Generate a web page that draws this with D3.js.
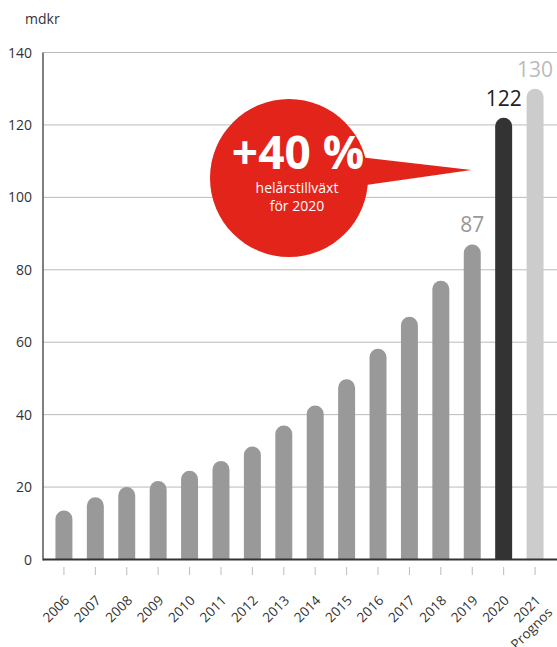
<!DOCTYPE html>
<html><head><meta charset="utf-8">
<script src="https://cdn.jsdelivr.net/npm/d3@7"></script>
<style>
html,body{margin:0;padding:0;background:#fff;}
svg{display:block;font-family:"Open Sans",sans-serif;}
</style></head>
<body>
<svg id="c" width="557" height="647"></svg>
<script>
const years = ["2006","2007","2008","2009","2010","2011","2012","2013","2014","2015","2016","2017","2018","2019","2020","2021"];
const values = [13.5,17.2,20,21.7,24.5,27.2,31.2,37,42.5,49.8,58.2,67,77,87,122,130];
const barColors = ["#999999","#999999","#999999","#999999","#999999","#999999","#999999","#999999","#999999","#999999","#999999","#999999","#999999","#999999","#333333","#cccccc"];
const valueLabels = [null,null,null,null,null,null,null,null,null,null,null,null,null,"87","122","130"];
const labelColors = [null,null,null,null,null,null,null,null,null,null,null,null,null,"#999999","#222222","#bbbbbb"];
const subLabels = ["","","","","","","","","","","","","","","","Prognos"];
const yTicks = [0,20,40,60,80,100,120,140];
const unit = "mdkr";
const bubbleBig = "+40 %";
const bubbleLines = ["helårstillväxt","för 2020"];

const svg = d3.select("#c");
const x = d3.scaleBand().domain(years).range([41,558]).paddingInner(0.46).paddingOuter(0.46);
const y = d3.scaleLinear().domain([0,140]).range([559.5,52.5]);
const axisX = 43;

// gridlines
svg.append("g").selectAll("line").data(yTicks.filter(d=>d>0)).join("line")
  .attr("x1",axisX).attr("x2",557).attr("y1",d=>y(d)).attr("y2",d=>y(d))
  .attr("stroke","#bbbbbb").attr("stroke-width",1);

// y tick labels
svg.append("g").selectAll("text").data(yTicks).join("text")
  .attr("x",32).attr("y",d=>y(d)).attr("dy","0.36em").attr("text-anchor","end")
  .attr("font-size",14).attr("fill","#333").text(d=>d);

svg.append("text").attr("x",25).attr("y",24).attr("font-size",14).attr("fill","#333").text(unit);

// bars
const bw = x.bandwidth(), r = bw/2;
svg.append("g").selectAll("path").data(years).join("path")
  .attr("d",(d,i)=>{
    const x0 = x(d), yt = y(values[i]), yb = y(0);
    return `M${x0},${yb}L${x0},${yt+r}A${r},${r} 0 0 1 ${x0+bw},${yt+r}L${x0+bw},${yb}Z`;
  })
  .attr("fill",(d,i)=>barColors[i]);

// axes lines
svg.append("line").attr("x1",axisX).attr("x2",axisX).attr("y1",y(140)).attr("y2",y(0)+1)
  .attr("stroke","#555").attr("stroke-width",1.5);
svg.append("line").attr("x1",axisX).attr("x2",557).attr("y1",y(0)).attr("y2",y(0))
  .attr("stroke","#333").attr("stroke-width",2);

// x ticks
svg.append("g").selectAll("line").data(years).join("line")
  .attr("x1",d=>x(d)+bw/2).attr("x2",d=>x(d)+bw/2).attr("y1",567).attr("y2",575)
  .attr("stroke","#bbb").attr("stroke-width",1);

// x labels
const xl = svg.append("g").selectAll("text").data(years).join("text")
  .attr("transform",d=>`translate(${x(d)+bw/2+3},${598}) rotate(-45)`)
  .attr("text-anchor","end").attr("font-size",13.5).attr("fill","#333");
xl.append("tspan").attr("x",0).attr("dy","0.35em").text(d=>d);
xl.append("tspan").attr("x",0).attr("dy","1.25em").text((d,i)=>subLabels[i]);

// value labels
svg.append("g").selectAll("text").data(years.map((d,i)=>({d,i})).filter(o=>valueLabels[o.i])).join("text")
  .attr("x",o=>x(o.d)+bw/2).attr("y",o=>y(values[o.i])-12)
  .attr("text-anchor","middle").attr("font-size",21).attr("fill",o=>labelColors[o.i])
  .text(o=>valueLabels[o.i]);

// bubble
const red = "#e3241a";
const cx = 289, cy = 178, cr = 79;
svg.append("path").attr("d",`M${cx+70},${157}L${471.5},${170}L${cx+70},${186}Z`).attr("fill",red);
svg.append("circle").attr("cx",cx).attr("cy",cy).attr("r",cr).attr("fill",red);
svg.append("text").attr("x",298).attr("y",169).attr("text-anchor","middle")
  .attr("font-size",46).attr("font-weight","bold").attr("fill","#fff").text(bubbleBig);
svg.append("g").selectAll("text").data(bubbleLines).join("text")
  .attr("x",297).attr("y",(d,i)=>193+i*17.5).attr("text-anchor","middle")
  .attr("font-size",14).attr("fill","#fff").text(d=>d);
</script>
</body></html>
